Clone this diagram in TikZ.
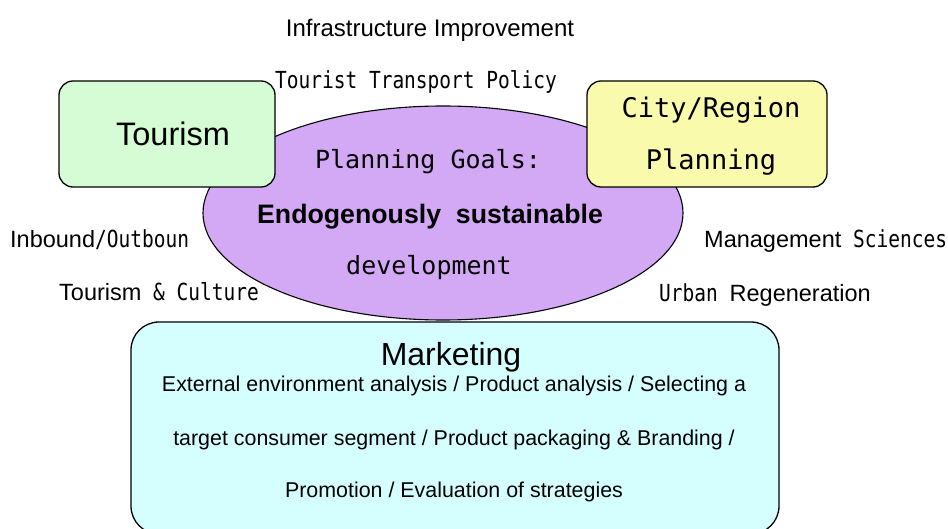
\documentclass[tikz,border=0pt]{standalone}
\usepackage{fontspec}
\setmainfont{Liberation Sans}
\newfontfamily\gothic{DejaVu Sans Mono}
\newfontfamily\gothicn[FakeStretch=0.83]{DejaVu Sans Mono}
\usetikzlibrary{shapes.geometric}
\definecolor{lav}{RGB}{211,169,246}
\definecolor{tgreen}{RGB}{213,252,213}
\definecolor{cyel}{RGB}{250,250,172}
\definecolor{mcyan}{RGB}{213,255,255}
\tikzset{
  txt/.style={inner sep=0pt, anchor=base},
  lbl/.style={txt, font=\fontsize{23.5}{28}\selectfont},
  box/.style={draw, line width=1.3pt, inner sep=0pt}
}
\begin{document}
\begin{tikzpicture}[x=1pt,y=-1pt]
\useasboundingbox (0,0) rectangle (948,529);
\fill[white] (0,0) rectangle (948,529);
% central ellipse
\node[ellipse, draw, line width=1.1pt, fill=lav, minimum width=480pt, minimum height=214pt, inner sep=0pt] (goal) at (443,213) {};
% boxes
\node[box, rounded corners=14pt, fill=tgreen, minimum width=216pt, minimum height=106pt] (tourbox) at (167,134) {};
\node[box, rounded corners=14pt, fill=cyel, minimum width=240pt, minimum height=106pt] (citybox) at (707,134) {};
\node[box, rounded corners=28pt, fill=mcyan, minimum width=648pt, minimum height=212pt] (mktbox) at (455,428) {};
% box texts
\node[txt, font=\fontsize{32.5}{36}\selectfont] (tourtxt) at (173,145.5) {Tourism};
\node[txt, font=\gothic\fontsize{27}{32}\selectfont] (city1) at (711,118) {City/Region};
\node[txt, font=\gothic\fontsize{27}{32}\selectfont] (city2) at (711,170) {Planning};
\node[txt, font=\gothic\fontsize{25}{30}\selectfont] (goal1) at (428,169) {Planning Goals:};
\node[txt, font=\bfseries\fontsize{26.7}{30}\selectfont] (goal2) at (430,223.5) {Endogenously\ \ sustainable};
\node[txt, font=\gothic\fontsize{25}{30}\selectfont] (goal3) at (429,275) {development};
\node[txt, font=\fontsize{32}{36}\selectfont] (mkt) at (451,365.5) {Marketing};
\node[txt, font=\fontsize{21.4}{24}\selectfont] (m1) at (454,391) {External environment analysis / Product analysis / Selecting a};
\node[txt, font=\fontsize{21.4}{24}\selectfont] (m2) at (454,445) {target consumer segment / Product packaging \& Branding /};
\node[txt, font=\fontsize{21.4}{24}\selectfont] (m3) at (454,497) {Promotion / Evaluation of strategies};
% surrounding labels
\node[lbl, font=\fontsize{24}{28}\selectfont] (infra) at (430,36.5) {Infrastructure Improvement};
\node[lbl, font=\gothicn\fontsize{23.5}{28}\selectfont] (transp) at (416,88.5) {Tourist Transport Policy};
\node[lbl, anchor=base west] (inb) at (10,247.5) {Inbound{\gothicn/Outboun}};
\node[lbl, anchor=base west] (tcul) at (59,300.5) {Tourism{\gothicn\ \& Culture}};
\node[lbl, anchor=base west] (mgmt) at (704,247.5) {Management{\gothicn\ Sciences}};
\node[lbl, anchor=base west] (urb) at (659,301.5) {{\gothicn Urban }Regeneration};
\end{tikzpicture}
\end{document}
